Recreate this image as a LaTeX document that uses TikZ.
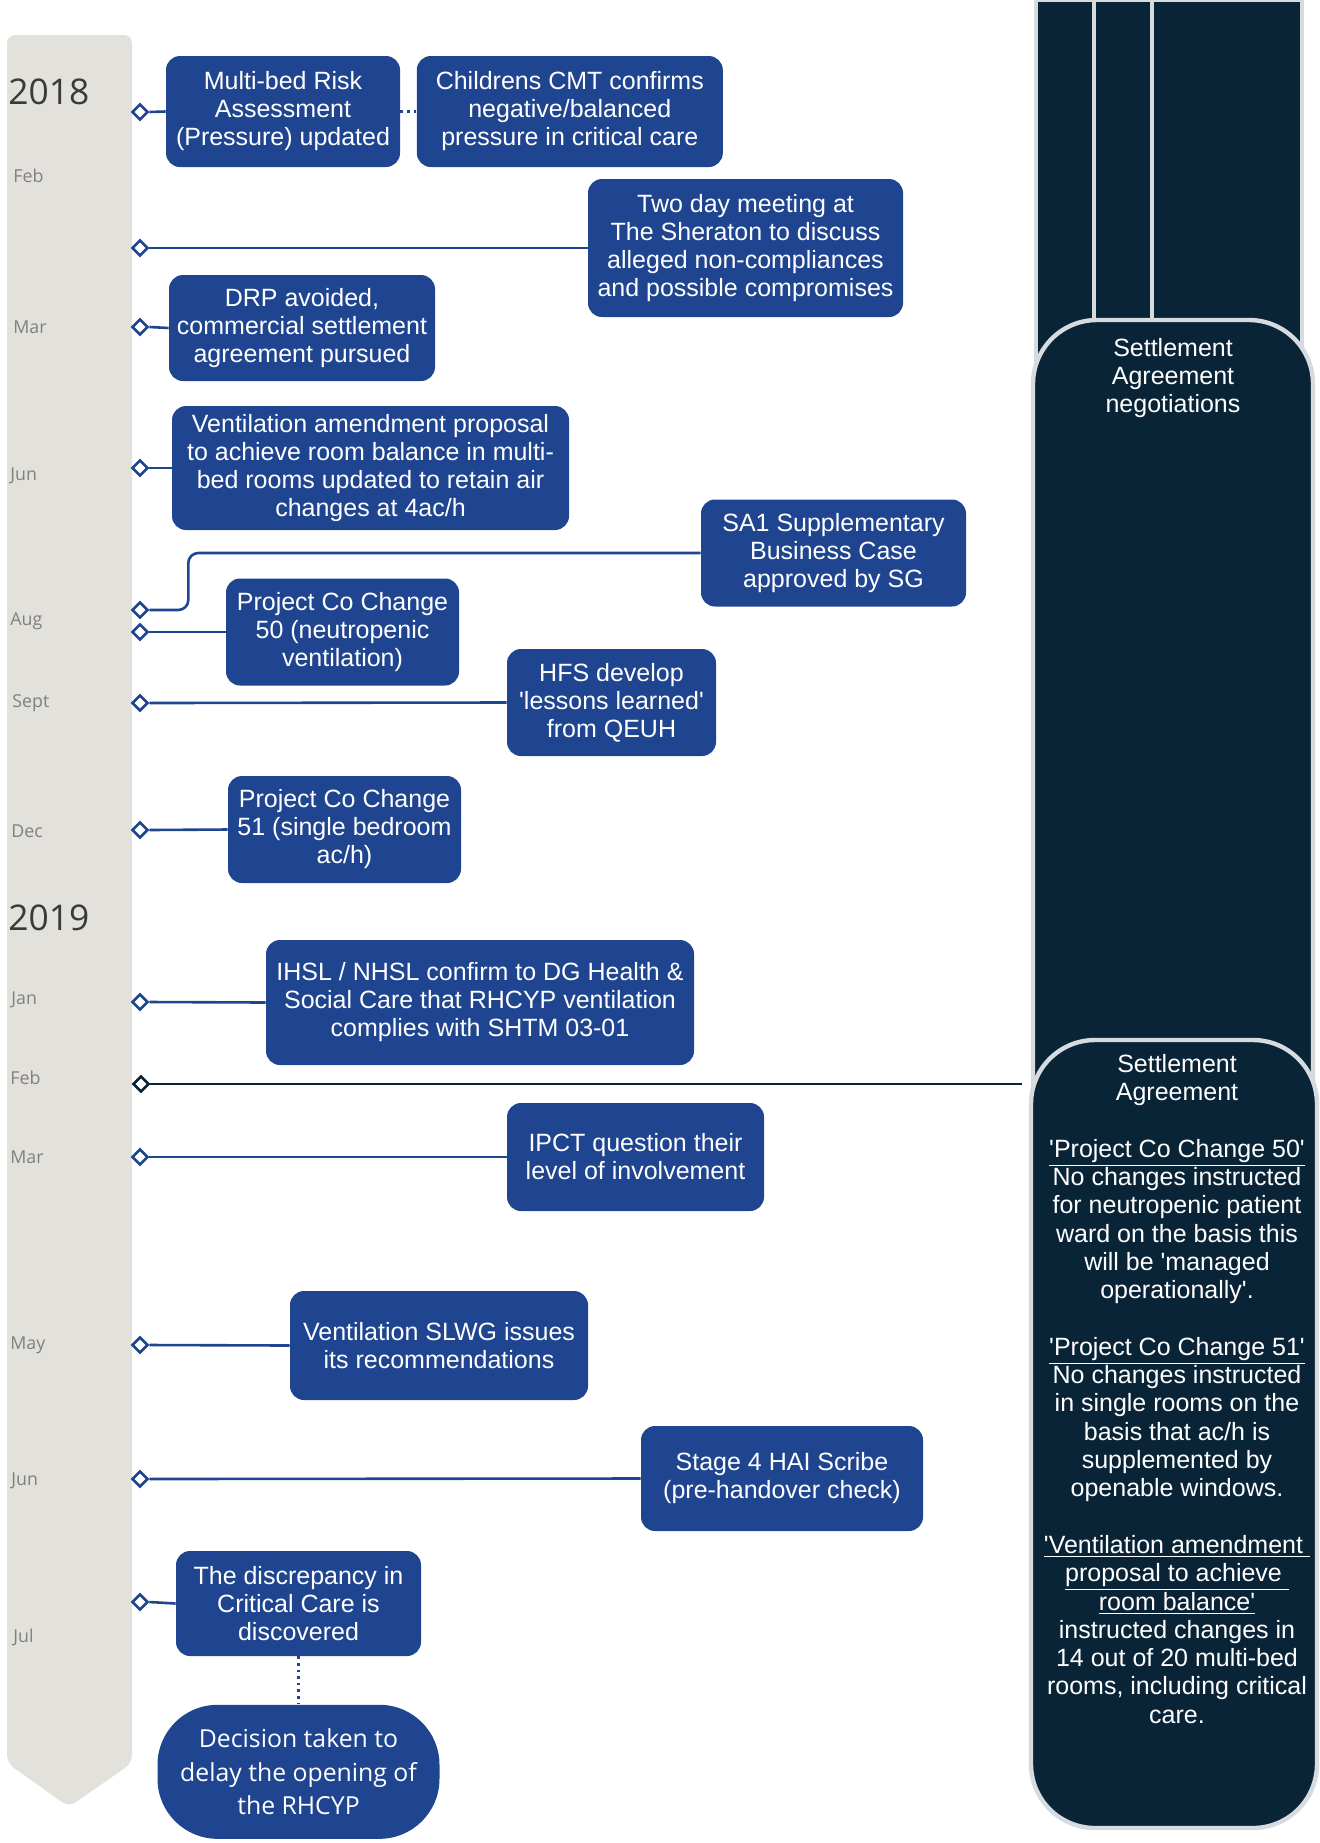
\documentclass[tikz,border=0pt]{standalone}
\usepackage{fontspec}
\setmainfont{Liberation Sans}[Ligatures=TeXOff]
\newfontfamily\opensans{Open Sans}
\usetikzlibrary{positioning,shapes.geometric}

\definecolor{evtblue}{RGB}{31,69,144}
\definecolor{navy}{RGB}{10,36,55}
\definecolor{bargrey}{RGB}{227,225,220}
\definecolor{laneedge}{RGB}{214,219,224}
\definecolor{monthgrey}{RGB}{128,128,128}
\definecolor{yeargrey}{RGB}{58,58,58}

\newcommand{\evtfont}{\fontsize{12.5}{14}\selectfont}

\begin{document}
\begin{tikzpicture}[
  x=0.5pt, y=-0.5pt,
  evt/.style={fill=evtblue, text=white, rounded corners=7pt, align=center,
              font=\evtfont, inner sep=2pt},
  dmd/.style={diamond, draw=evtblue, fill=white, line width=1.3pt,
              inner sep=0pt, minimum size=8pt},
  link/.style={draw=evtblue, line width=1.3pt},
  month/.style={anchor=west, inner sep=0pt, text=monthgrey,
                font=\opensans\fontsize{8.9}{10}\selectfont},
  yr/.style={anchor=west, inner sep=0pt, text=yeargrey,
             font=\opensans\fontsize{17.7}{20}\selectfont},
  lane/.style={fill=navy, draw=laneedge, line width=2pt},
  panel/.style={fill=navy, draw=laneedge, line width=2.2pt, rounded corners=32pt},
  paneltxt/.style={text=white, align=center, inner sep=0pt,
                   font=\fontsize{12.5}{14.15}\selectfont}
]
\useasboundingbox (0,0) rectangle (1319,1843);

%% Timeline bar
\fill[bargrey, rounded corners=4pt] (7,1763) -- (7,35) -- (132,35) -- (132,1763) -- (69,1807) -- cycle;

%% Years and months
\node[yr]    (y18)   at (8,92)    {2018};
\node[month] (feb18) at (13,176)  {Feb};
\node[month] (mar18) at (13,327)  {Mar};
\node[month] (jun18) at (10,476)  {Jun};
\node[month] (aug18) at (10,621)  {Aug};
\node[month] (sep18) at (12,703)  {Sept};
\node[month] (dec18) at (11,831)  {Dec};
\node[yr]    (y19)   at (8,918)   {2019};
\node[month] (jan19) at (11,1000) {Jan};
\node[month] (feb19) at (10,1078) {Feb};
\node[month] (mar19) at (10,1157) {Mar};
\node[month] (may19) at (10,1345) {May};
\node[month] (jun19) at (11,1481) {Jun};
\node[month] (jul19) at (13,1637) {Jul};

%% Right hand panels
\draw[lane] (1036,0) rectangle (1094,500);
\draw[lane] (1094,0) rectangle (1152,500);
\draw[lane] (1152,0) rectangle (1302,500);
\node[panel, minimum width=140pt, minimum height=420pt] (neg) at (1173,740) {};
\node[paneltxt, below=10pt of neg.north] (negtxt) {Settlement\\Agreement\\negotiations};
\node[panel, minimum width=143pt, minimum height=394pt] (settle) at (1174,1434) {};
\node[paneltxt, below=8pt of settle.north, xshift=1.5pt] (settletxt)
  {Settlement\\Agreement\\[14.15pt]
   \underline{'Project Co Change 50'}\\No changes instructed\\for neutropenic patient\\
   ward on the basis this\\will be 'managed\\operationally'.\\[14.15pt]
   \underline{'Project Co Change 51'}\\No changes instructed\\in single rooms on the\\
   basis that ac/h is\\supplemented by\\openable windows.\\[14.15pt]
   \underline{'Ventilation amendment\ }\\\underline{proposal to achieve\ }\\
   \underline{room balance'}\\instructed changes in\\14 out of 20 multi-bed\\
   rooms, including critical\\care.};
\coordinate (sain) at (1022,1084);

%% Ticks
\node[dmd] (t1)  at (140,112)  {};
\node[dmd] (t2)  at (140,248)  {};
\node[dmd] (t3)  at (140,327)  {};
\node[dmd] (t4)  at (140,468)  {};
\node[dmd] (t5)  at (140,610)  {};
\node[dmd] (t6)  at (140,632)  {};
\node[dmd] (t7)  at (140,703)  {};
\node[dmd] (t8)  at (140,830)  {};
\node[dmd] (t9)  at (140,1002) {};
\node[dmd, draw=navy] (t10) at (141,1084) {};
\node[dmd] (t11) at (140,1157) {};
\node[dmd] (t12) at (140,1345) {};
\node[dmd] (t13) at (140,1479) {};
\node[dmd] (t14) at (140,1602) {};

%% Events
\node[evt, minimum width=117pt, minimum height=55.5pt] (mra) at (283,111.5)
  {Multi-bed Risk\\Assessment\\(Pressure) updated};
\node[evt, minimum width=153pt, minimum height=55.5pt, right=8pt of mra] (cmt)
  {Childrens CMT confirms\\negative/balanced\\pressure in critical care};
\node[evt, minimum width=157.5pt, minimum height=69pt] (sher) at (745.5,248)
  {Two day meeting at\\The Sheraton to discuss\\alleged non-compliances\\and possible compromises};
\node[evt, minimum width=133pt, minimum height=53pt] (drp) at (302,328)
  {DRP avoided,\\commercial settlement\\agreement pursued};
\node[evt, minimum width=198.5pt, minimum height=62pt] (vap) at (370.5,468)
  {Ventilation amendment proposal\\to achieve room balance in multi-\\bed rooms updated to retain air\\changes at 4ac/h};
\node[evt, minimum width=132.5pt, minimum height=53.5pt] (sa1) at (833.5,553)
  {SA1 Supplementary\\Business Case\\approved by SG};
\node[evt, minimum width=116.5pt, minimum height=53.5pt] (pc50) at (342.5,632)
  {Project Co Change\\50 (neutropenic\\ventilation)};
\node[evt, minimum width=104.5pt, minimum height=53.5pt] (hfs) at (611.5,702.5)
  {HFS develop\\'lessons learned'\\from QEUH};
\node[evt, minimum width=116.5pt, minimum height=53.5pt] (pc51) at (344.5,829.5)
  {Project Co Change\\51 (single bedroom\\ac/h)};
\node[evt, minimum width=214pt, minimum height=62.5pt] (ihsl) at (480,1002.5)
  {IHSL / NHSL confirm to DG Health \&\\Social Care that RHCYP ventilation\\complies with SHTM 03-01};
\node[evt, minimum width=128.5pt, minimum height=54pt] (ipct) at (635.5,1157)
  {IPCT question their\\level of involvement};
\node[evt, minimum width=149pt, minimum height=54.5pt] (slwg) at (439,1345.5)
  {Ventilation SLWG issues\\its recommendations};
\node[evt, minimum width=141pt, minimum height=52.5pt] (hai) at (782,1478.5)
  {Stage 4 HAI Scribe\\(pre-handover check)};
\node[evt, minimum width=122.5pt, minimum height=52.5pt] (disc) at (298.5,1603.5)
  {The discrepancy in\\Critical Care is\\discovered};
\node[evt, minimum width=141pt, minimum height=67pt, rounded corners=30pt,
      font=\opensans\fontsize{12.4}{16.8}\selectfont, below=24pt of disc] (delay)
  {Decision taken to\\delay the opening of\\the RHCYP};

%% Connectors
\draw[link] (t1.east) -- (mra.west);
\draw[link, dotted] (mra.east) -- (cmt.west);
\draw[link] (t2.east) -- (t2.east -| sher.west);
\draw[link] (t3.east) -- (drp.west);
\draw[link] (t4.east) -- (vap.west);
\draw[link, rounded corners=5pt] (t5.east) -- ++(39,0) |- (sa1.west);
\draw[link] (t6.east) -- (pc50.west);
\draw[link] (t7.east) -- (hfs.west);
\draw[link] (t8.east) -- (pc51.west);
\draw[link] (t9.east) -- (ihsl.west);
\draw[link, draw=navy] (t10.east) -- (sain);
\draw[link] (t11.east) -- (ipct.west);
\draw[link] (t12.east) -- (slwg.west);
\draw[link] (t13.east) -- (hai.west);
\draw[link] (t14.east) -- (disc.west);
\draw[link, dotted] (disc.south) -- (delay.north);
\end{tikzpicture}
\end{document}
